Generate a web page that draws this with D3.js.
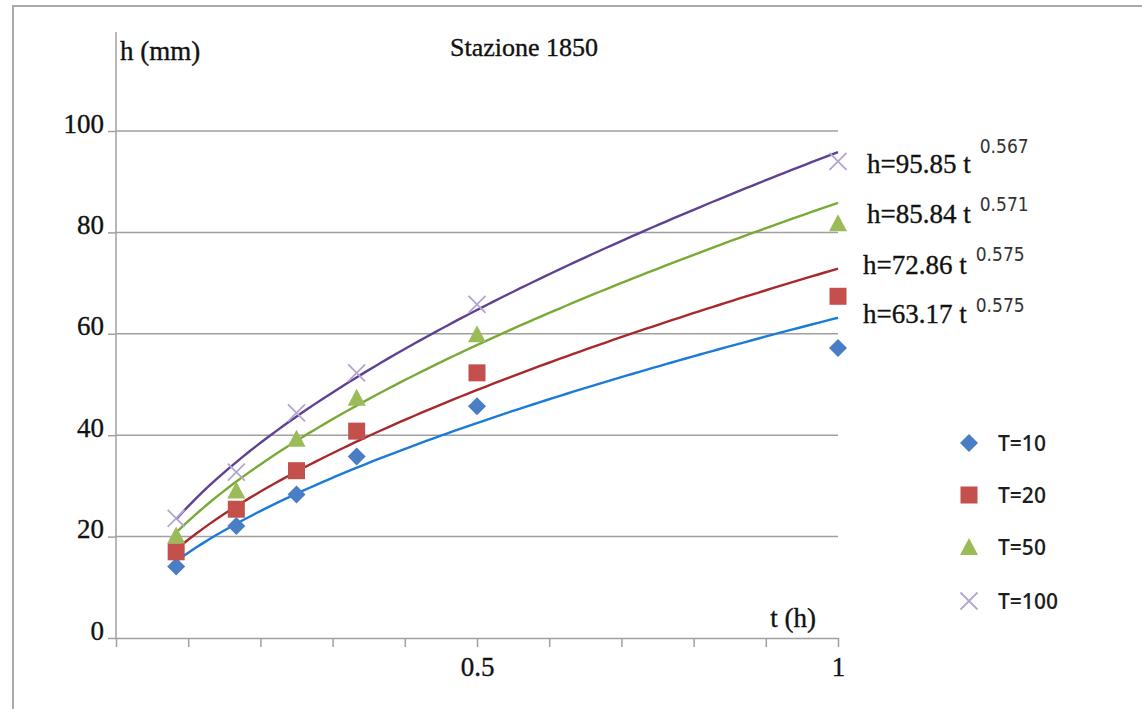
<!DOCTYPE html>
<html><head><meta charset="utf-8">
<script src="https://cdn.jsdelivr.net/npm/d3@7"></script>
<style>
html,body{margin:0;padding:0;background:#fff;}
svg{display:block;}
</style></head>
<body>
<svg id="c" width="1142" height="709"></svg>
<script>
// ---- data ----
const tValues = [1/12, 2/12, 3/12, 4/12, 0.5, 1];
const seriesNames = ["T=10", "T=20", "T=50", "T=100"];
const hT10  = [14.1, 22.1, 28.3, 35.8, 45.7, 57.2];
const hT20  = [17.0, 25.4, 33.0, 40.8, 52.3, 67.4];
const hT50  = [20.2, 29.1, 39.3, 47.4, 59.9, 81.8];
const hT100 = [23.6, 32.7, 44.4, 52.3, 65.8, 94.0];
const coefA = [63.17, 72.86, 85.84, 95.85];
const coefB = [0.575, 0.575, 0.571, 0.567];
const yTicks = [0, 20, 40, 60, 80, 100];
const xTicks = [0, 0.1, 0.2, 0.3, 0.4, 0.5, 0.6, 0.7, 0.8, 0.9, 1];
const xTickLabels = ["", "", "", "", "", "0.5", "", "", "", "", "1"];
const title = "Stazione 1850";
const yTitle = "h (mm)";
const xTitle = "t (h)";

const seriesValues = [hT10, hT20, hT50, hT100];
const markerColors = ["#4a7ec4", "#c3504d", "#9bbb59", "#b3a5cf"];
const lineColors = ["#1b7bd6", "#a8292c", "#7aaa36", "#5f4192"];
const shapes = ["diamond", "square", "triangle", "cross"];

const svg = d3.select("#c");
const serif = "'Liberation Serif','Times New Roman',serif";
function serifText(sel, size) {
  return sel.attr("font-family", serif).attr("font-size", size).attr("fill", "#111")
    .attr("stroke", "#111").attr("stroke-width", 0.35);
}

// border
svg.append("path").attr("d", "M13,709 V6 H1142").attr("fill", "none")
  .attr("stroke", "#a9a9a9").attr("stroke-width", 2);

const x = d3.scaleLinear().domain([0, 1]).range([116, 838]);
const y = d3.scaleLinear().domain([0, 100]).range([638, 131]);

// gridlines
svg.append("g").selectAll("line").data(yTicks.filter(d => d > 0)).join("line")
  .attr("x1", x(0)).attr("x2", x(1)).attr("y1", d => y(d)).attr("y2", d => y(d))
  .attr("stroke", "#a0a0a0").attr("stroke-width", 1.5);

// y axis
const gy = svg.append("g").attr("transform", `translate(${x(0)},0)`)
  .call(d3.axisLeft(y).tickValues(yTicks).tickSize(8).tickSizeOuter(0).tickFormat(d3.format("d")));
gy.select(".domain").remove();
gy.selectAll(".tick line").attr("stroke", "#a0a0a0").attr("stroke-width", 1.5);
serifText(gy.selectAll(".tick text"), 27).attr("x", -12).attr("dy", "0").attr("y", 1);
svg.append("line").attr("x1", x(0)).attr("x2", x(0)).attr("y1", y(0)).attr("y2", 32)
  .attr("stroke", "#a0a0a0").attr("stroke-width", 1.5);

// x axis
const gx = svg.append("g").attr("transform", `translate(0,${y(0)})`)
  .call(d3.axisBottom(x).tickValues(xTicks).tickSize(9).tickSizeOuter(0)
    .tickFormat((d, i) => xTickLabels[i]));
gx.select(".domain").attr("stroke", "#a0a0a0").attr("stroke-width", 1.5);
gx.selectAll(".tick line").attr("stroke", "#a0a0a0").attr("stroke-width", 1.5);
serifText(gx.selectAll(".tick text"), 27).attr("y", 38).attr("dy", "0");

// titles
serifText(svg.append("text"), 26).attr("x", 524).attr("y", 56).attr("text-anchor", "middle").text(title);
serifText(svg.append("text"), 27).attr("x", 120).attr("y", 60).text(yTitle);
serifText(svg.append("text"), 27).attr("x", 816).attr("y", 627).attr("text-anchor", "end").text(xTitle);

// trend lines
const curveT = d3.range(0, 101).map(i => tValues[0] + (1 - tValues[0]) * i / 100);
const line = d3.line().x(d => x(d[0])).y(d => y(d[1]));
coefA.forEach((a, i) => {
  svg.append("path").datum(curveT.map(t => [t, a * Math.pow(t, coefB[i])]))
    .attr("d", line).attr("fill", "none").attr("stroke", lineColors[i]).attr("stroke-width", 2.4);
});

// markers
function marker(g, shape, color) {
  if (shape === "diamond") {
    g.append("path").attr("d", "M0,-9 L9,0 L0,9 L-9,0 Z").attr("fill", color);
  } else if (shape === "square") {
    g.append("rect").attr("x", -8.5).attr("y", -8.5).attr("width", 17).attr("height", 17).attr("fill", color);
  } else if (shape === "triangle") {
    g.append("path").attr("d", "M0,-9 L9,8 L-9,8 Z").attr("fill", color);
  } else {
    g.append("path").attr("d", "M-8.5,-8.5 L8.5,8.5 M-8.5,8.5 L8.5,-8.5")
      .attr("stroke", color).attr("stroke-width", 1.8).attr("fill", "none");
  }
}
seriesValues.forEach((vals, i) => {
  vals.forEach((v, j) => {
    const g = svg.append("g").attr("transform", `translate(${x(tValues[j])},${y(v)})`);
    marker(g, shapes[i], markerColors[i]);
  });
});

// equation labels (T=10, T=20, T=50, T=100)
const eqPos = [[863, 323, 312], [863, 274, 261], [867, 223, 211], [867, 173, 153]];
coefA.forEach((a, i) => {
  const [ex, ey, sy] = eqPos[i];
  const t = serifText(svg.append("text"), 27).attr("x", ex).attr("y", ey)
    .text(`h=${a.toFixed(2)} t`);
  const w = t.node().getComputedTextLength();
  svg.append("text").attr("x", ex + w + 9).attr("y", sy)
    .attr("font-family", "'Liberation Sans Narrow','DejaVu Sans Condensed','Liberation Sans',sans-serif")
    .attr("font-size", 19).attr("fill", "#333")
    .text(coefB[i].toFixed(3));
});

// legend
const legY = [443, 495, 547, 601];
seriesNames.forEach((name, i) => {
  const g = svg.append("g").attr("transform", `translate(969,${legY[i]})`);
  marker(g, shapes[i], markerColors[i]);
  svg.append("text").attr("x", 998).attr("y", legY[i] + 7.5)
    .attr("font-family", "'Open Sans',sans-serif").attr("font-weight", 600)
    .attr("font-size", 21).attr("fill", "#1e1e1e").text(name);
});
</script>
</body></html>
